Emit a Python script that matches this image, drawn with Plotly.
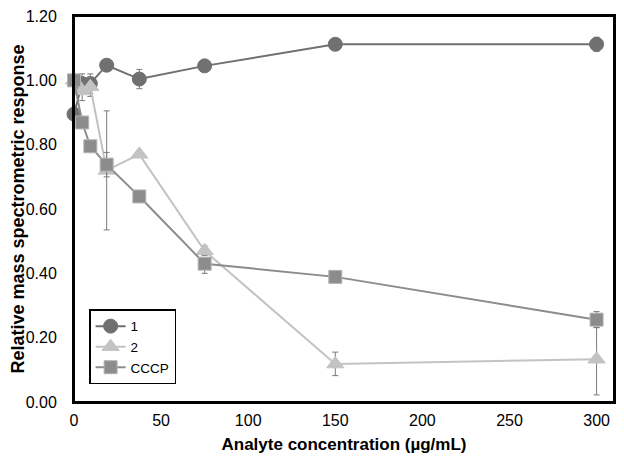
import plotly.graph_objects as go

conc = [0, 4.69, 9.38, 18.75, 37.5, 75, 150, 300]

s1 = [0.895, 0.99, 0.99, 1.047, 1.004, 1.045, 1.112, 1.112]
s1_err_plus = [0.0, 0.03, 0.03, 0.0, 0.03, 0.0, 0.0, 0.022]
s1_err_minus = [0.0, 0.03, 0.03, 0.0, 0.03, 0.0, 0.0, 0.022]

s2 = [1.00, 0.967, 0.98, 0.72, 0.77, 0.47, 0.118, 0.133]
s2_err_plus = [0.0, 0.03, 0.03, 0.185, 0.0, 0.015, 0.037, 0.099]
s2_err_minus = [0.0, 0.03, 0.03, 0.185, 0.0, 0.015, 0.036, 0.111]

s3 = [1.00, 0.869, 0.795, 0.738, 0.639, 0.43, 0.389, 0.256]
s3_err_plus = [0.0, 0.0, 0.0, 0.038, 0.0, 0.0, 0.0, 0.025]
s3_err_minus = [0.0, 0.0, 0.0, 0.038, 0.0, 0.03, 0.0, 0.025]

names = ["1", "2", "CCCP"]
xticks = [0, 50, 100, 150, 200, 250, 300]
yticks = [0.0, 0.2, 0.4, 0.6, 0.8, 1.0, 1.2]

fig = go.Figure()

series = [
    (names[0], s1, s1_err_plus, s1_err_minus, "#707070", "#707070", "circle", 14),
    (names[1], s2, s2_err_plus, s2_err_minus, "#c3c3c3", "#c3c3c3", "triangle-up", 15),
    (names[2], s3, s3_err_plus, s3_err_minus, "#8c8c8c", "#b4b4b4", "square", 13),
]

for name, y, ep, em, col, edge, sym, size in series:
    fig.add_trace(go.Scatter(
        x=conc, y=y, name=name, mode="lines+markers", cliponaxis=False,
        line=dict(color=col, width=2),
        marker=dict(symbol=sym, size=size, color=col, line=dict(color=edge, width=1)),
        error_y=dict(type="data", symmetric=False, array=ep, arrayminus=em,
                     color="#7a7a7a", thickness=1, width=3),
    ))

# page body has an 8px default margin; figure size/margins compensate so the
# plot area sits at about x 74-614, y 16-402 of the 624x462 window
fig.update_layout(
    width=608, height=446,
    margin=dict(l=66, r=2, t=8, b=52, autoexpand=False),
    paper_bgcolor="white", plot_bgcolor="white",
    font=dict(family="Liberation Sans, Arial, sans-serif", size=16, color="#000"),
    legend=dict(x=0.028, y=0.24, xanchor="left", yanchor="top",
                bordercolor="#000", borderwidth=1.5, bgcolor="white",
                font=dict(size=13.5), tracegroupgap=0, itemwidth=30),
    showlegend=True,
    shapes=[dict(type="rect", xref="paper", yref="paper", x0=0, x1=1, y0=0, y1=1,
                 line=dict(color="#000", width=2), fillcolor="rgba(0,0,0,0)", layer="above")],
)
fig.update_xaxes(
    range=[0, 310], tickvals=xticks, ticktext=[str(v) for v in xticks],
    showgrid=False, zeroline=False, showline=True, linecolor="#000", linewidth=2,
    mirror=True, ticks="", tickfont=dict(size=16), automargin=False,
    ticklabelstandoff=3, ticklabeloverflow="allow",
    title=dict(text="<b>Analyte concentration (µg/mL)</b>", font=dict(size=17), standoff=12),
)
fig.update_yaxes(
    range=[0, 1.2], tickvals=yticks, ticktext=[f"{v:.2f}" for v in yticks],
    showgrid=False, zeroline=False, showline=True, linecolor="#000", linewidth=2,
    mirror=True, ticks="", tickfont=dict(size=16), automargin=False,
    ticklabelstandoff=12, ticklabeloverflow="allow",
    title=dict(text="<b>Relative mass spectrometric response</b>", font=dict(size=18), standoff=1),
)

fig.write_html("out.html", config={"displayModeBar": False})
